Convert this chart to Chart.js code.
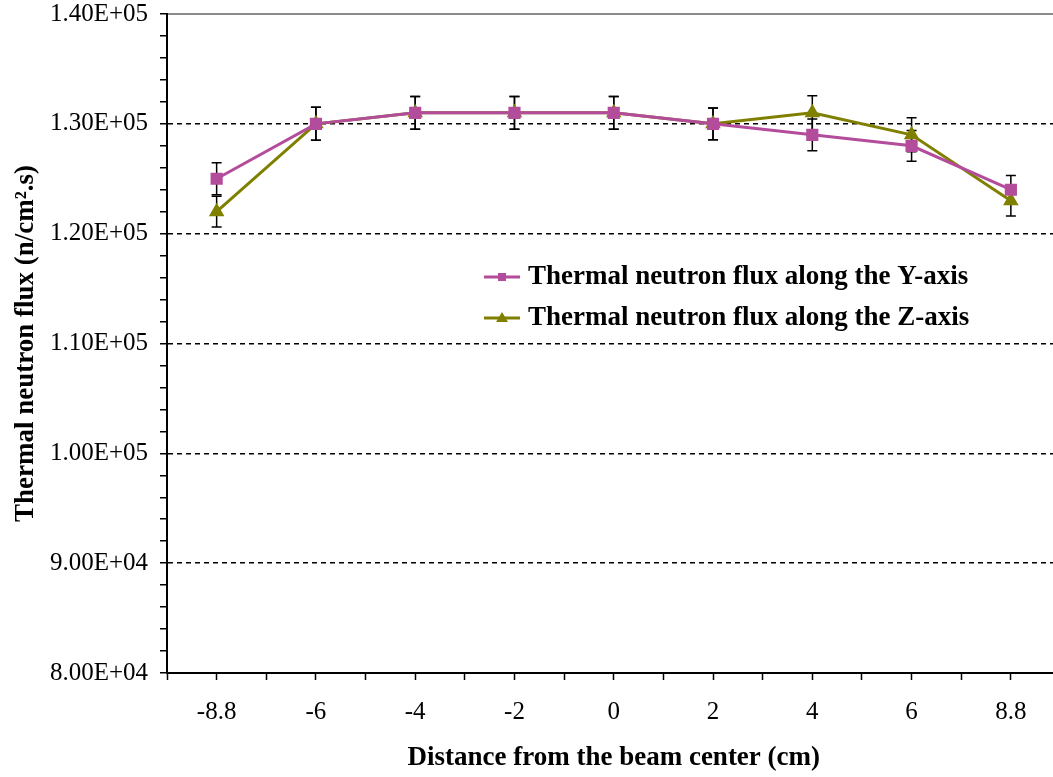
<!DOCTYPE html>
<html>
<head>
<meta charset="utf-8">
<script src="https://cdn.jsdelivr.net/npm/chart.js@4.4.0/dist/chart.umd.min.js"></script>
<style>
  html, body { margin: 0; padding: 0; background: #fff; overflow: hidden; }
  #wrap { position: relative; width: 1070px; height: 777px; }
</style>
</head>
<body>
<div id="wrap"><canvas id="flux" width="1070" height="777"></canvas></div>
<script>
const distances = ["-8.8", "-6", "-4", "-2", "0", "2", "4", "6", "8.8"];
const fluxY = [125000, 130000, 131000, 131000, 131000, 130000, 129000, 128000, 124000];
const fluxZ = [122000, 130000, 131000, 131000, 131000, 130000, 131000, 129000, 123000];
const errY = [1450, 1500, 1500, 1500, 1500, 1450, 1450, 1400, 1300];
const errZ = [1400, 1500, 1500, 1500, 1500, 1450, 1550, 1550, 1400];
const yLabelSteps = [80000, 90000, 100000, 110000, 120000, 130000, 140000];

const serif = "'Liberation Serif', 'Times New Roman', serif";
const pink = "#b44c9c";
const olive = "#808000";

const sci = (v) => {
  const exp = Math.floor(Math.log10(v));
  const m = (v / Math.pow(10, exp)).toFixed(2);
  return `${m}E+${String(exp).padStart(2, "0")}`;
};

const toPoints = (arr) => arr.map((v, i) => ({ x: i, y: v }));

// error bars, drawn under the lines and markers
const errorBars = {
  id: "errorBars",
  beforeDatasetsDraw(chart) {
    const { ctx, scales } = chart;
    const sets = [errY, errZ];
    ctx.save();
    ctx.strokeStyle = "#000";
    ctx.lineWidth = 1.5;
    chart.data.datasets.forEach((ds, k) => {
      ds.data.forEach((p, i) => {
        const x = scales.x.getPixelForValue(p.x);
        const top = scales.y.getPixelForValue(p.y + sets[k][i]);
        const bot = scales.y.getPixelForValue(p.y - sets[k][i]);
        ctx.beginPath();
        ctx.moveTo(x, top);
        ctx.lineTo(x, bot);
        ctx.moveTo(x - 5, top);
        ctx.lineTo(x + 5, top);
        ctx.moveTo(x - 5, bot);
        ctx.lineTo(x + 5, bot);
        ctx.stroke();
      });
    });
    ctx.restore();
  },
};

// legend sitting inside the plot area
const innerLegend = {
  id: "innerLegend",
  afterDraw(chart) {
    const { ctx } = chart;
    const rows = [277, 318];
    ctx.save();
    chart.data.datasets.forEach((ds, k) => {
      const y = rows[k];
      ctx.strokeStyle = ds.borderColor;
      ctx.lineWidth = 3;
      ctx.beginPath();
      ctx.moveTo(484, y);
      ctx.lineTo(520, y);
      ctx.stroke();
      ctx.fillStyle = ds.backgroundColor;
      if (ds.pointStyle === "rect") {
        ctx.fillRect(498, y - 4, 8, 8);
      } else {
        ctx.beginPath();
        ctx.moveTo(502, y - 6);
        ctx.lineTo(508, y + 4);
        ctx.lineTo(496, y + 4);
        ctx.closePath();
        ctx.fill();
      }
      ctx.fillStyle = "#000";
      ctx.font = `bold 27px ${serif}`;
      ctx.textBaseline = "middle";
      ctx.textAlign = "left";
      ctx.fillText(ds.label, 528, y);
    });
    ctx.restore();
  },
};

new Chart("flux", {
  type: "line",
  data: {
    datasets: [
      {
        label: "Thermal neutron flux along the Y-axis",
        data: toPoints(fluxY),
        borderColor: pink,
        backgroundColor: pink,
        borderWidth: 3,
        pointStyle: "rect",
        pointRadius: 6.5,
        pointHoverRadius: 6.5,
        tension: 0,
      },
      {
        label: "Thermal neutron flux along the Z-axis",
        data: toPoints(fluxZ),
        borderColor: olive,
        backgroundColor: olive,
        borderWidth: 3,
        pointStyle: "triangle",
        pointRadius: 6,
        pointHoverRadius: 6,
        tension: 0,
      },
    ],
  },
  options: {
    responsive: false,
    animation: false,
    events: [],
    layout: { padding: { left: 0, right: 9, top: 14, bottom: 0 } },
    plugins: { legend: { display: false }, tooltip: { enabled: false } },
    scales: {
      x: {
        type: "linear",
        position: "bottom",
        min: -0.5,
        max: 8.5,
        afterBuildTicks: (scale) => {
          const t = [];
          for (let i = -1; i <= 17; i++) t.push({ value: i / 2 });
          scale.ticks = t;
        },
        afterFit: (scale) => {
          scale.height = 104;
          scale.paddingLeft = 0;
          scale.paddingRight = 0;
        },
        ticks: {
          autoSkip: false,
          maxRotation: 0,
          padding: 17,
          color: "#000",
          font: { family: serif, size: 25 },
          callback: (v) => (Number.isInteger(v) && v >= 0 ? distances[v] : ""),
        },
        grid: {
          drawOnChartArea: false,
          tickLength: 7,
          tickColor: "#000",
          tickWidth: 1.5,
        },
        border: { color: "#000", width: 2 },
        title: {
          display: true,
          text: "Distance from the beam center (cm)",
          color: "#000",
          font: { family: serif, size: 27, weight: "bold" },
          padding: { top: 0, bottom: 3 },
        },
      },
      x2: {
        type: "linear",
        position: "top",
        min: -0.5,
        max: 8.5,
        afterFit: (scale) => {
          scale.height = 0;
        },
        ticks: { display: false },
        grid: { drawOnChartArea: false, drawTicks: false },
        border: { color: "#8c8c8c", width: 2 },
      },
      y: {
        min: 80000,
        max: 140000,
        afterBuildTicks: (scale) => {
          const t = [];
          for (let v = 80000; v <= 140000; v += 2000) t.push({ value: v });
          scale.ticks = t;
        },
        afterFit: (scale) => {
          scale.width = 167;
          scale.paddingTop = 0;
          scale.paddingBottom = 0;
        },
        ticks: {
          autoSkip: false,
          padding: 12,
          color: "#000",
          font: { family: serif, size: 25 },
          callback: (v) => (yLabelSteps.includes(v) ? sci(v) : ""),
        },
        grid: {
          color: (c) =>
            c.tick && c.tick.value % 10000 === 0 && c.tick.value > 80000 && c.tick.value < 140000
              ? "#000"
              : "rgba(0,0,0,0)",
          lineWidth: 1.5,
          tickLength: 7,
          tickColor: "#000",
          tickWidth: 1.5,
        },
        border: { color: "#000", width: 2, dash: [5, 4] },
        title: {
          display: true,
          text: "Thermal neutron flux (n/cm\u00b2.s)",
          color: "#000",
          font: { family: serif, size: 27, weight: "bold" },
          padding: { top: 10, bottom: 0 },
        },
      },
    },
  },
  plugins: [errorBars, innerLegend],
});
</script>
</body>
</html>
